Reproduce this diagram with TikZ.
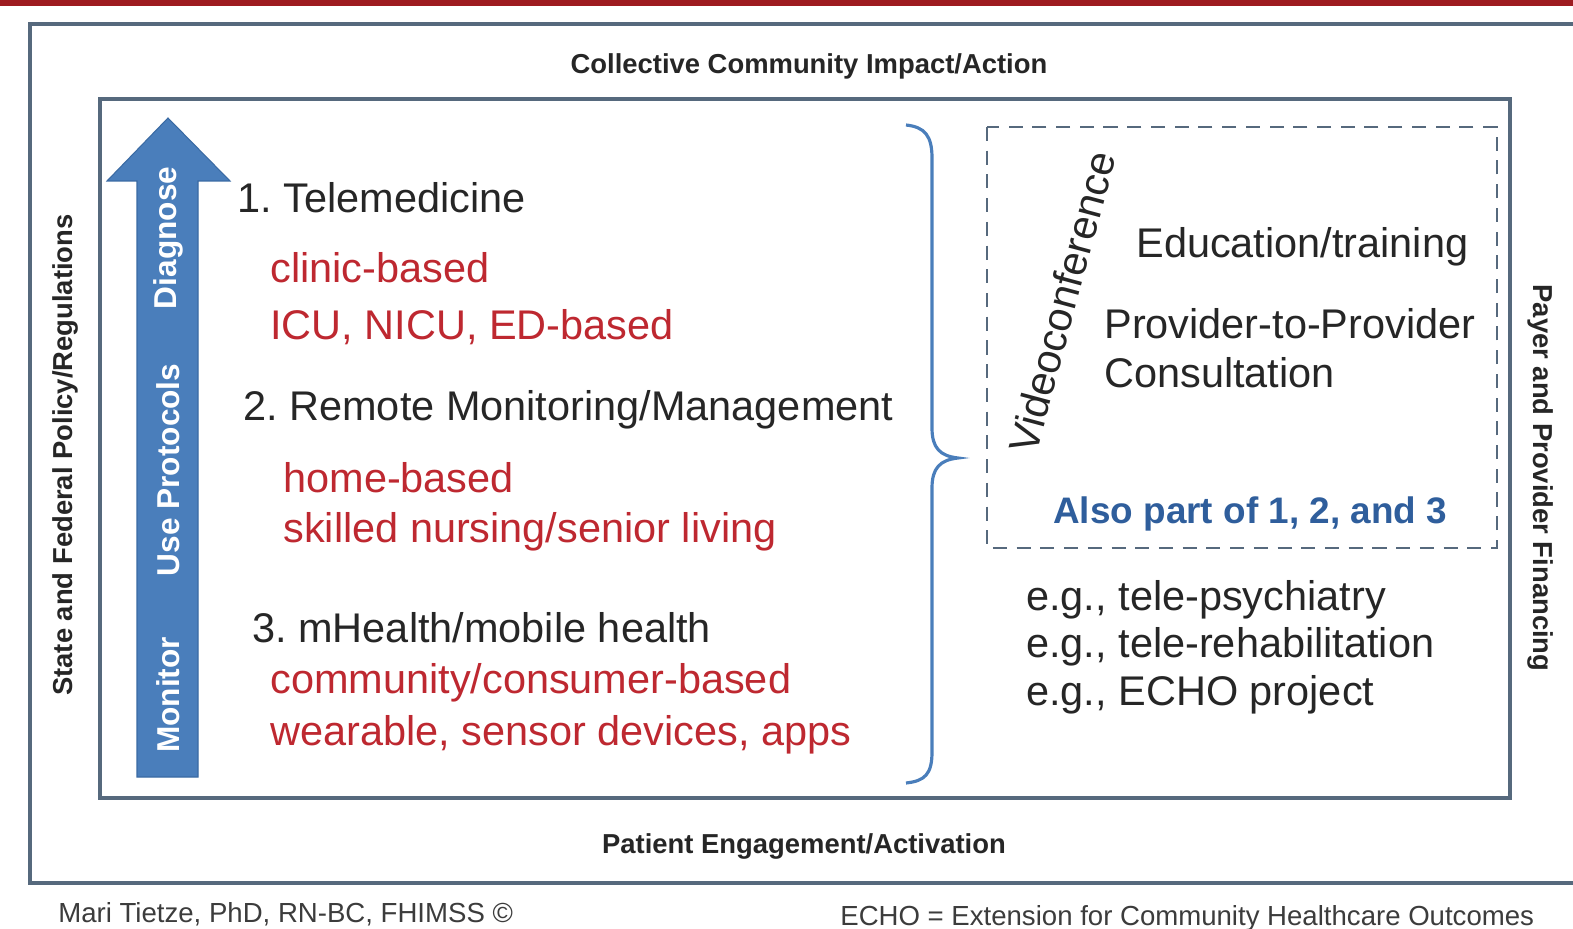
\documentclass[tikz,border=0pt]{standalone}
\usepackage{fontspec}
\setmainfont{Liberation Sans}
\usepackage{tikz}
\usetikzlibrary{positioning}
\frenchspacing
\definecolor{cBar}{HTML}{9E1B20}
\definecolor{cFrame}{HTML}{56697D}
\definecolor{cBlueF}{HTML}{4A7EBB}
\definecolor{cBlueD}{HTML}{3A6AA3}
\definecolor{cBlueT}{HTML}{2F5E9C}
\definecolor{cRedT}{HTML}{BE2830}
\definecolor{cInk}{HTML}{262626}
\tikzset{
  txt/.style   = {anchor=base west, inner sep=0pt, text=cInk,
                  font=\fontsize{23.6}{28}\selectfont},
  red/.style   = {txt, text=cRedT},
  frm/.style   = {inner sep=0pt, text=cInk, font=\bfseries\fontsize{15.6}{18}\selectfont},
  stage/.style = {inner sep=0pt, text=white, rotate=90,
                  font=\bfseries\fontsize{18}{20}\selectfont},
  box/.style   = {draw=cFrame, line width=1.8pt},
  dashbox/.style = {draw=cFrame, line width=1.1pt, dash pattern=on 8pt off 5.5pt},
  note/.style  = {anchor=base west, inner sep=0pt, text=cInk!90,
                  font=\fontsize{15.7}{18}\selectfont},
}
\begin{document}
\begin{tikzpicture}[x=0.02cm, y=-0.02cm]
  \clip (0,0) rectangle (1573,929);
  \fill[white] (0,0) rectangle (1573,929);
  % red bar on top
  \fill[cBar] (0,0) rectangle (1573,6);
  % frames
  \draw[box] (30,24) rectangle (1600,883);
  \draw[box] (100,99) rectangle (1510,798);
  \node[frm, anchor=base] (impact) at (809,74) {Collective Community Impact/Action};
  \node[frm, anchor=base] (engage) at (804,853) {Patient Engagement/Activation};
  \node[frm, rotate=90] (policy) at (65,455) {State and Federal Policy/Regulations};
  \node[frm, rotate=-90] (payer) at (1541,478) {Payer and Provider Financing};
  % up arrow
  \draw[cBlueD, fill=cBlueF, line width=0.6pt]
    (168,118) -- (230,181) -- (198,181) -- (198,777) -- (137,777)
    -- (137,181) -- (107,181) -- cycle;
  \node[stage] (diag) at (168,238) {Diagnose};
  \node[stage] (proto) at (168,470) {Use Protocols};
  \node[stage] (mon) at (168,695) {Monitor};
  % left list
  \node[txt] (tele) at (237,213) {1. Telemedicine};
  \node[red] (clinic) at (270,283) {clinic-based};
  \node[red] (icu) at (270,339) {ICU, NICU, ED-based};
  \node[txt] (remote) at (243,420) {2. Remote Monitoring/Management};
  \node[red] (home) at (283,492) {home-based};
  \node[red] (snf) at (283,542) {skilled nursing/senior living};
  \node[txt] (mhealth) at (252,642) {3. mHealth/mobile health};
  \node[red] (comm) at (270,693) {community/consumer-based};
  \node[red] (wear) at (270,745) {wearable, sensor devices, apps};
  % brace
  \draw[cBlueF, line width=1.8pt]
    (906,125) .. controls (925,127) and (932,136) .. (932,158)
    -- (932,428) .. controls (932,448) and (940,456) .. (958,458)
    .. controls (940,460) and (932,468) .. (932,488)
    -- (932,752) .. controls (932,774) and (925,781) .. (906,783);
  % videoconference box
  \draw[dashbox] (987,127) rectangle (1497,548);
  \node[inner sep=0pt, text=cInk, rotate=75, font=\fontsize{23.6}{28}\selectfont]
    (video) at (1062,302) {Videoconference};
  \node[txt] (edu) at (1136,258) {Education/training};
  \node[txt] (p2p) at (1104,338) {Provider-to-Provider};
  \node[txt] (consult) at (1104,387) {Consultation};
  \node[txt, text=cBlueT, font=\bfseries\fontsize{21}{24}\selectfont]
    (also) at (1053,523) {Also part of 1, 2, and 3};
  \node[txt] (eg1) at (1026,610) {e.g., tele-psychiatry};
  \node[txt] (eg2) at (1026,657) {e.g., tele-rehabilitation};
  \node[txt] (eg3) at (1026,705) {e.g., ECHO project};
  % footer
  \node[note] (credit) at (58,922) {Mari Tietze, PhD, RN-BC, FHIMSS \textcopyright};
  \node[note] (echo) at (840,925) {ECHO = Extension for Community Healthcare Outcomes};
\end{tikzpicture}
\end{document}
